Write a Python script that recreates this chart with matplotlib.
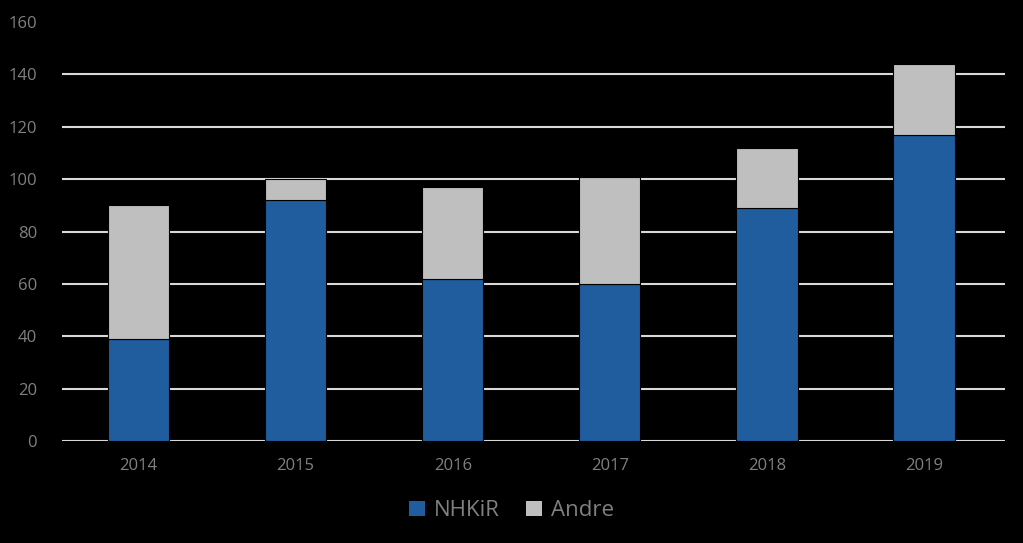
import matplotlib
matplotlib.use("Agg")
import matplotlib.pyplot as plt
import numpy as np
from matplotlib.patches import Patch

years = ['2014', '2015', '2016', '2017', '2018', '2019']
nhkir = [39, 92, 62, 60, 89, 117]
andre = [51, 8, 35, 41, 23, 27]

blue = '#1F5D9E'
grey = '#BFBFBF'
txt = '#808080'

plt.rcParams['font.family'] = ['Open Sans', 'DejaVu Sans']

fig = plt.figure(figsize=(10.23, 5.43), dpi=100, facecolor='black')
ax = fig.add_axes([0.0606, 0.1878, 0.9214, 0.7717], facecolor='black')

x = np.arange(len(years))
width = 0.39
ax.bar(x, nhkir, width, color=blue, edgecolor='black', linewidth=0.8, zorder=3)
ax.bar(x, andre, width, bottom=nhkir, color=grey, edgecolor='black', linewidth=0.8, zorder=3)

ax.set_xlim(-0.487, len(years) - 0.487)
ax.set_ylim(0, 160)
ax.set_yticks(np.arange(0, 161, 20))
for v in range(0, 160, 20):
    ax.axhline(v, color='#D9D9D9', linewidth=1.5, zorder=1)

ax.set_xticks(x)
ax.set_xticklabels(years)
ax.tick_params(axis='y', length=0, pad=18, labelsize=12, labelcolor=txt)
ax.tick_params(axis='x', length=0, pad=12, labelsize=12, labelcolor=txt)
for s in ax.spines.values():
    s.set_visible(False)

handles = [Patch(facecolor=blue, label='NHKiR'), Patch(facecolor=grey, label='Andre')]
leg = fig.legend(handles=handles, loc='center', bbox_to_anchor=(0.5, 0.059), ncol=2,
                 frameon=False, fontsize=16, handlelength=0.7, handleheight=0.7,
                 handletextpad=0.4, columnspacing=1.2)
for t in leg.get_texts():
    t.set_color(txt)

plt.savefig('out.png', dpi=100, facecolor='black')
